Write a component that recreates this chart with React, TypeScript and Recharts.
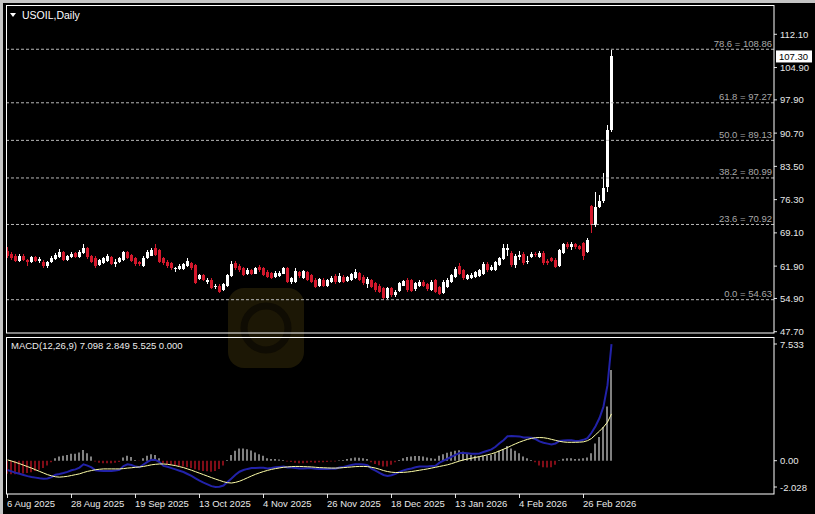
import { ComposedChart, Bar, Line, XAxis, YAxis, ReferenceLine, Cell } from 'recharts';

const FONT = "'Liberation Sans', Arial, sans-serif";
const RED = '#d4182c';

const tickDates = ['6 Aug 2025', '28 Aug 2025', '19 Sep 2025', '13 Oct 2025', '4 Nov 2025', '26 Nov 2025', '18 Dec 2025', '13 Jan 2026', '4 Feb 2026', '26 Feb 2026'];
const tickBars = [0, 16, 32, 48, 64, 80, 96, 112, 128, 144];
const priceTicks = [112.1, 104.9, 97.9, 90.7, 83.5, 76.3, 69.1, 61.9, 54.9, 47.7];
const fibRatios = ['78.6', '61.8', '50.0', '38.2', '23.6', '0.0'];
const fibPrices = [108.86, 97.27, 89.13, 80.99, 70.92, 54.63];

// daily OHLC, 6 Aug 2025 .. 9 Mar 2026
const opens = [
  65.2, 64.5, 64.2, 63.1, 64.2, 63.2, 62.7, 63.9, 63.0, 62.9, 61.9, 62.8, 63.5, 63.8, 64.9, 63.3, 63.8, 64.7, 63.9, 64.7,
  65.8, 64.1, 63.7, 62.1, 62.6, 63.0, 63.9, 62.4, 62.7, 63.2, 64.9, 64.3, 63.6, 62.8, 62.0, 63.6, 64.2, 65.9, 65.4, 63.6,
  62.9, 62.5, 61.2, 61.3, 61.3, 62.0, 62.5, 62.1, 59.1, 60.0, 58.4, 59.0, 57.4, 57.7, 56.7, 57.5, 59.8, 62.5, 62.0, 61.4,
  60.3, 61.0, 60.3, 61.8, 61.4, 60.7, 60.4, 59.6, 59.8, 60.3, 61.4, 58.4, 58.5, 60.6, 59.4, 60.6, 60.0, 59.0, 57.6, 59.0,
  57.6, 58.4, 59.8, 58.5, 59.6, 58.6, 58.9, 59.4, 60.4, 59.6, 58.0, 58.8, 58.2, 57.7, 57.1, 55.0, 57.1, 55.6, 56.6, 57.7,
  59.0, 58.8, 56.9, 57.7, 58.5, 58.0, 56.7, 58.9, 57.4, 56.0, 57.4, 58.5, 59.6, 61.9, 61.0, 59.2, 59.4, 59.6, 59.8, 60.2,
  62.4, 61.0, 61.0, 62.1, 63.4, 65.4, 64.8, 62.1, 63.9, 64.6, 62.9, 63.9, 64.6, 63.9, 64.8, 63.1, 63.6, 63.3, 61.9, 64.7,
  66.7, 66.0, 66.6, 66.2, 66.8, 65.0, 74.9, 70.9, 74.8, 75.9, 79.1, 91.4,
];
const highs = [
  66.0, 64.9, 64.6, 64.5, 64.6, 63.5, 64.2, 64.1, 63.9, 63.2, 63.1, 64.0, 64.7, 65.6, 65.2, 64.4, 64.9, 65.0, 65.3, 66.6,
  66.1, 64.4, 64.0, 63.5, 63.9, 64.5, 64.2, 63.5, 63.9, 65.2, 65.2, 64.6, 63.9, 63.1, 64.0, 65.3, 65.9, 66.7, 65.7, 63.9,
  63.2, 62.8, 61.8, 62.4, 62.6, 63.6, 62.8, 62.4, 60.3, 60.3, 59.4, 59.3, 58.1, 58.0, 58.3, 60.3, 63.0, 63.1, 62.3, 61.7,
  61.4, 61.3, 61.7, 62.1, 61.7, 61.0, 60.7, 60.8, 60.9, 61.7, 61.7, 59.6, 61.4, 60.9, 61.1, 60.9, 60.3, 59.3, 59.4, 59.3,
  59.1, 59.7, 60.1, 60.4, 59.9, 59.8, 60.4, 61.2, 60.7, 59.9, 59.5, 59.1, 58.5, 58.0, 57.4, 57.4, 57.4, 56.7, 58.5, 58.9,
  59.3, 59.1, 58.5, 59.0, 58.8, 58.3, 58.8, 59.2, 57.7, 58.8, 59.3, 60.3, 61.8, 62.5, 61.3, 60.3, 60.4, 60.9, 61.3, 62.7,
  62.7, 62.1, 63.1, 63.9, 66.6, 66.6, 65.1, 64.5, 65.1, 64.9, 64.0, 64.9, 64.9, 65.1, 65.1, 63.4, 63.9, 63.6, 65.7, 67.0,
  67.2, 67.1, 66.9, 66.5, 67.1, 67.9, 75.2, 78.0, 77.3, 82.0, 92.5, 108.7,
];
const lows = [
  63.7, 63.3, 62.8, 62.9, 63.0, 62.0, 62.5, 62.8, 62.5, 61.6, 61.6, 62.5, 63.3, 63.6, 63.0, 63.0, 63.6, 63.6, 63.7, 64.5,
  63.5, 62.6, 61.6, 61.9, 62.4, 62.8, 62.1, 61.8, 62.5, 63.0, 63.4, 62.8, 62.0, 62.0, 61.8, 63.4, 64.0, 64.0, 62.5, 62.2,
  61.6, 61.1, 60.7, 61.0, 61.1, 61.8, 61.1, 58.0, 58.8, 58.6, 58.1, 56.9, 57.0, 56.1, 56.5, 57.3, 59.6, 61.1, 60.7, 59.7,
  59.9, 60.0, 60.1, 60.7, 59.7, 59.3, 59.1, 59.4, 59.6, 60.1, 58.2, 58.1, 58.3, 59.4, 59.2, 58.7, 58.2, 57.1, 57.4, 57.4,
  57.4, 58.2, 58.1, 58.3, 58.2, 58.4, 58.7, 59.2, 58.7, 57.9, 57.1, 57.1, 56.4, 56.0, 54.63, 54.7, 55.3, 55.3, 56.4, 57.5,
  56.4, 56.2, 56.6, 57.4, 57.3, 56.6, 56.5, 56.1, 55.6, 55.8, 57.2, 58.3, 59.4, 60.0, 59.0, 59.0, 59.1, 59.4, 59.6, 60.0,
  60.7, 60.8, 60.8, 61.9, 63.2, 64.0, 61.8, 61.4, 63.2, 62.2, 62.3, 63.6, 63.9, 63.6, 62.2, 62.2, 62.8, 61.5, 61.7, 64.5,
  65.7, 65.5, 65.7, 65.3, 63.2, 64.8, 69.1, 70.4, 74.4, 75.5, 78.0, 91.0,
];
const closes = [
  64.0, 63.6, 63.1, 64.2, 63.3, 62.7, 63.9, 63.0, 63.4, 61.9, 62.8, 63.7, 64.4, 64.9, 63.3, 64.1, 64.6, 63.9, 65.0, 65.9,
  63.8, 62.9, 61.9, 63.2, 63.6, 64.2, 62.4, 62.7, 63.6, 64.9, 63.6, 63.0, 62.3, 62.4, 63.7, 65.0, 65.4, 64.3, 62.8, 62.5,
  61.9, 61.4, 61.4, 62.0, 62.3, 63.0, 61.4, 58.3, 60.0, 58.9, 59.0, 57.2, 57.7, 56.4, 58.0, 60.0, 62.3, 61.4, 61.0, 60.0,
  61.0, 60.3, 61.4, 61.0, 60.0, 59.6, 59.4, 60.5, 60.5, 61.4, 58.5, 59.3, 60.8, 59.7, 60.8, 59.0, 58.5, 57.4, 59.1, 57.7,
  58.8, 59.4, 58.4, 59.8, 58.5, 59.5, 60.1, 60.6, 59.0, 58.2, 59.2, 57.4, 56.7, 56.3, 54.9, 57.1, 55.6, 56.4, 58.2, 58.6,
  56.7, 56.5, 58.2, 58.5, 57.6, 56.9, 58.5, 56.4, 55.9, 58.5, 59.0, 60.0, 61.2, 60.3, 59.3, 60.0, 60.0, 60.6, 61.0, 62.4,
  61.0, 61.8, 62.8, 63.6, 65.8, 65.8, 62.1, 64.1, 64.4, 62.5, 63.1, 64.6, 64.3, 64.8, 62.5, 62.5, 63.1, 61.8, 65.4, 66.7,
  66.0, 66.6, 66.0, 65.6, 64.0, 67.6, 70.8, 74.8, 76.1, 78.9, 91.4, 107.3,
];

// MACD(12,26,9) panel
const macdMain = [
  -0.57, -0.65, -0.73, -0.8, -0.87, -0.94, -0.99, -1.03, -1.07, -1.1, -1.08, -1.0, -0.86, -0.81, -0.75, -0.68, -0.58, -0.53, -0.42, -0.22,
  -0.3, -0.41, -0.59, -0.61, -0.62, -0.62, -0.62, -0.59, -0.56, -0.33, -0.22, -0.26, -0.36, -0.4, -0.23, -0.07, 0.06, 0.05, -0.08, -0.32,
  -0.37, -0.45, -0.53, -0.61, -0.69, -0.81, -0.93, -1.07, -1.21, -1.33, -1.44, -1.55, -1.6, -1.59, -1.51, -1.3, -1.09, -0.86, -0.67, -0.57,
  -0.5, -0.45, -0.45, -0.43, -0.43, -0.47, -0.45, -0.4, -0.38, -0.36, -0.42, -0.42, -0.44, -0.47, -0.48, -0.46, -0.46, -0.49, -0.5, -0.51,
  -0.5, -0.49, -0.49, -0.42, -0.38, -0.32, -0.26, -0.21, -0.21, -0.23, -0.28, -0.48, -0.6, -0.74, -0.87, -0.93, -0.89, -0.8, -0.68, -0.59,
  -0.52, -0.47, -0.4, -0.36, -0.35, -0.35, -0.33, -0.31, -0.12, 0.01, 0.12, 0.24, 0.36, 0.47, 0.47, 0.45, 0.42, 0.43, 0.44, 0.53,
  0.61, 0.69, 0.85, 1.06, 1.25, 1.49, 1.5, 1.49, 1.48, 1.41, 1.42, 1.4, 1.32, 1.18, 1.09, 1.04, 0.99, 1.05, 1.2, 1.23,
  1.24, 1.24, 1.2, 1.22, 1.27, 1.37, 1.7, 2.1, 2.6, 3.3, 4.6, 7.098,
];
const macdSignal = [
  0.05, -0.02, -0.1, -0.18, -0.27, -0.36, -0.45, -0.55, -0.65, -0.75, -0.85, -0.92, -0.98, -1.0, -0.98, -0.95, -0.9, -0.85, -0.8, -0.72,
  -0.65, -0.6, -0.55, -0.52, -0.5, -0.5, -0.5, -0.5, -0.5, -0.48, -0.45, -0.43, -0.4, -0.38, -0.35, -0.3, -0.25, -0.22, -0.2, -0.2,
  -0.22, -0.26, -0.3, -0.36, -0.42, -0.5, -0.58, -0.67, -0.76, -0.85, -0.94, -1.03, -1.12, -1.2, -1.28, -1.34, -1.36, -1.32, -1.25, -1.15,
  -1.04, -0.93, -0.83, -0.74, -0.66, -0.59, -0.53, -0.48, -0.44, -0.4, -0.38, -0.36, -0.35, -0.35, -0.36, -0.37, -0.38, -0.4, -0.42, -0.43,
  -0.44, -0.45, -0.45, -0.44, -0.42, -0.4, -0.38, -0.36, -0.35, -0.35, -0.36, -0.4, -0.45, -0.52, -0.6, -0.66, -0.7, -0.72, -0.72, -0.71,
  -0.69, -0.66, -0.62, -0.58, -0.54, -0.5, -0.45, -0.4, -0.35, -0.3, -0.25, -0.18, -0.1, -0.02, 0.05, 0.1, 0.15, 0.2, 0.25, 0.3,
  0.36, 0.42, 0.5, 0.6, 0.7, 0.8, 0.92, 1.03, 1.13, 1.22, 1.3, 1.36, 1.4, 1.41, 1.4, 1.36, 1.3, 1.24, 1.18, 1.14,
  1.12, 1.12, 1.12, 1.13, 1.15, 1.22, 1.35, 1.58, 1.8, 2.05, 2.35, 2.849,
];
const macdHist = [
  -0.8, -0.82, -0.82, -0.8, -0.78, -0.75, -0.7, -0.62, -0.55, -0.45, -0.3, -0.1, 0.15, 0.25, 0.3, 0.35, 0.42, 0.42, 0.5, 0.65,
  0.45, 0.25, -0.05, -0.12, -0.15, -0.15, -0.15, -0.12, -0.08, 0.2, 0.3, 0.22, 0.05, -0.02, 0.15, 0.3, 0.4, 0.35, 0.15, -0.15,
  -0.2, -0.25, -0.3, -0.32, -0.35, -0.4, -0.45, -0.52, -0.58, -0.62, -0.65, -0.68, -0.62, -0.5, -0.3, 0.05, 0.35, 0.6, 0.75, 0.75,
  0.7, 0.62, 0.5, 0.4, 0.3, 0.15, 0.1, 0.1, 0.08, 0.05, -0.05, -0.08, -0.12, -0.15, -0.15, -0.12, -0.1, -0.12, -0.1, -0.1,
  -0.08, -0.05, -0.05, 0.02, 0.05, 0.1, 0.15, 0.2, 0.18, 0.15, 0.1, -0.1, -0.2, -0.28, -0.35, -0.35, -0.25, -0.1, 0.05, 0.15,
  0.22, 0.25, 0.28, 0.28, 0.25, 0.2, 0.15, 0.12, 0.3, 0.4, 0.48, 0.55, 0.6, 0.63, 0.55, 0.45, 0.35, 0.3, 0.25, 0.3,
  0.32, 0.35, 0.45, 0.6, 0.72, 0.9, 0.75, 0.6, 0.45, 0.25, 0.15, 0.05, -0.1, -0.3, -0.4, -0.42, -0.4, -0.25, 0.02, 0.12,
  0.15, 0.15, 0.1, 0.12, 0.15, 0.2, 0.45, 1.05, 1.45, 2.05, 3.3, 5.525,
];

const rows = closes.map((close, i) => ({
  i,
  open: opens[i],
  high: highs[i],
  low: lows[i],
  close,
  range: [lows[i], highs[i]],
  main: macdMain[i],
  signal: macdSignal[i],
  hist: macdHist[i],
}));

const X_DOMAIN: [number, number] = [-0.375, 191.625];
const AXIS_X = 774;

const Candle = (props: any) => {
  const { x, y, width, height, payload } = props;
  const top = Math.min(y, y + height);
  const h = Math.abs(height);
  const { open, close, high, low } = payload;
  const span = high - low || 1;
  const py = (v: number) => top + ((high - v) / span) * h;
  const up = close >= open;
  const color = up ? '#ffffff' : RED;
  const cx = Math.floor(x + width / 2) + 0.5;
  const bTop = Math.round(py(Math.max(open, close)));
  const bBot = Math.round(py(Math.min(open, close)));
  return (
    <g shapeRendering="crispEdges">
      <line x1={cx} x2={cx} y1={Math.round(top)} y2={Math.round(top + h)} stroke={color} strokeWidth={1} />
      <rect x={cx - 1.5} y={bTop} width={3} height={Math.max(1, bBot - bTop)} fill={color} />
    </g>
  );
};

const PriceTick = (props: any) => {
  const { y, payload } = props;
  return (
    <g>
      <line x1={AXIS_X} x2={AXIS_X + 3} y1={y} y2={y} stroke="#e0e0e0" />
      <text x={AXIS_X + 6} y={y + 3.5} fill="#e8e8e8" fontSize={9.5} fontFamily={FONT}>
        {payload.value.toFixed(2)}
      </text>
    </g>
  );
};

const MacdTick = (props: any) => {
  const { y, payload } = props;
  const v = payload.value;
  const dy = v > 0 ? 7 : v < 0 ? -7 : 0;
  const label = v === 0 ? '0.00' : v.toFixed(3);
  return (
    <g>
      <line x1={AXIS_X} x2={AXIS_X + 3} y1={y + dy} y2={y + dy} stroke="#e0e0e0" />
      <text x={AXIS_X + 6} y={y + dy + 3.5} fill="#e8e8e8" fontSize={9.5} fontFamily={FONT}>
        {label}
      </text>
    </g>
  );
};

const DateTick = (props: any) => {
  const { x, payload } = props;
  const label = tickDates[tickBars.indexOf(payload.value)];
  return (
    <g>
      <line x1={x} x2={x} y1={164} y2={168} stroke="#e0e0e0" />
      <text x={x - 0.5} y={177} fill="#e8e8e8" fontSize={9.5} fontFamily={FONT}>
        {label}
      </text>
    </g>
  );
};

const FibLabel = (props: any) => {
  const { viewBox, text } = props;
  if (!viewBox) return null;
  return (
    <text
      x={viewBox.x + viewBox.width - 2}
      y={viewBox.y - 2.5}
      textAnchor="end"
      fill="#a8a8a8"
      fontSize={9.5}
      fontFamily={FONT}
    >
      {text}
    </text>
  );
};

const PriceBox = (props: any) => {
  const { viewBox, text } = props;
  if (!viewBox) return null;
  const y = viewBox.y;
  return (
    <g>
      <rect x={AXIS_X + 2} y={y - 6} width={36} height={12} fill="#ffffff" />
      <text x={AXIS_X + 5} y={y + 3.5} fill="#000000" fontSize={9.5} fontFamily={FONT}>
        {text}
      </text>
    </g>
  );
};

export default function App() {
  const last = closes[closes.length - 1];
  return (
    <div
      style={{
        position: 'absolute',
        left: 0,
        top: 0,
        width: 815,
        height: 514,
        background: '#000',
        overflow: 'hidden',
        fontFamily: FONT,
      }}
    >
      {/* faint watermark */}
      <svg width={815} height={514} style={{ position: 'absolute', left: 0, top: 0 }}>
        <rect x={228} y={288} width={76} height={80} rx={16} fill="#1c1705" />
        <circle cx={266} cy={328} r={22} fill="none" stroke="#0f0c03" strokeWidth={7} />
      </svg>

      <div style={{ position: 'absolute', left: 0, top: 330 }}>
        <ComposedChart width={815} height={184} data={rows} margin={{ top: 7, right: 0, left: 6, bottom: 0 }}>
          <XAxis
            type="number"
            dataKey="i"
            domain={X_DOMAIN}
            ticks={tickBars}
            interval={0}
            height={20}
            tick={<DateTick />}
            axisLine={false}
            tickLine={false}
            allowDataOverflow
          />
          <YAxis
            orientation="right"
            width={41}
            domain={[-2.028, 7.533]}
            ticks={[7.533, 0, -2.028]}
            interval={0}
            tick={<MacdTick />}
            axisLine={false}
            tickLine={false}
            allowDataOverflow
          />
          <Bar dataKey="hist" barSize={1} isAnimationActive={false}>
            {rows.map((r) => (
              <Cell key={r.i} fill={r.hist >= 0 ? '#ffffff' : '#ff1a2e'} />
            ))}
          </Bar>
          <Line dataKey="main" type="linear" stroke="#2222a8" strokeWidth={2} dot={false} isAnimationActive={false} />
          <Line dataKey="signal" type="linear" stroke="#ffffa8" strokeWidth={1} dot={false} isAnimationActive={false} />
        </ComposedChart>
      </div>

      <div style={{ position: 'absolute', left: 0, top: 0 }}>
        <ComposedChart width={815} height={340} data={rows} margin={{ top: 7, right: 0, left: 6, bottom: 7 }}>
          <XAxis type="number" dataKey="i" domain={X_DOMAIN} hide allowDataOverflow />
          <YAxis
            orientation="right"
            width={41}
            domain={[47.42, 118.01]}
            ticks={priceTicks}
            interval={0}
            tick={<PriceTick />}
            axisLine={false}
            tickLine={false}
            allowDataOverflow
          />
          {fibPrices.map((p, k) => (
            <ReferenceLine
              key={p}
              y={p}
              stroke="#b8b8b8"
              strokeDasharray="3 2"
              label={<FibLabel text={`${fibRatios[k]} = ${p.toFixed(2)}`} />}
            />
          ))}
          <Bar dataKey="range" shape={<Candle />} barSize={3} isAnimationActive={false} />
          <ReferenceLine y={last} stroke="none" label={<PriceBox text={last.toFixed(2)} />} />
        </ComposedChart>
      </div>

      <svg width={815} height={514} style={{ position: 'absolute', left: 0, top: 0, pointerEvents: 'none' }}>
        <rect x={0} y={0} width={815} height={3} fill="#c4c4c4" />
        <rect x={0} y={0} width={3} height={514} fill="#c4c4c4" />
        <rect x={6.5} y={5.5} width={767.5} height={327.5} fill="none" stroke="#ffffff" strokeWidth={1} />
        <rect x={6.5} y={337.5} width={767.5} height={156.5} fill="none" stroke="#ffffff" strokeWidth={1} />
        <path d="M10 13 L16 13 L13 17 Z" fill="#ffffff" />
        <text x={22} y={18.5} fill="#ffffff" fontSize={10.5} fontFamily={FONT}>
          USOIL,Daily
        </text>
        <text x={11} y={348.5} fill="#ececec" fontSize={9.5} fontFamily={FONT}>
          MACD(12,26,9) 7.098 2.849 5.525 0.000
        </text>
      </svg>
    </div>
  );
}
